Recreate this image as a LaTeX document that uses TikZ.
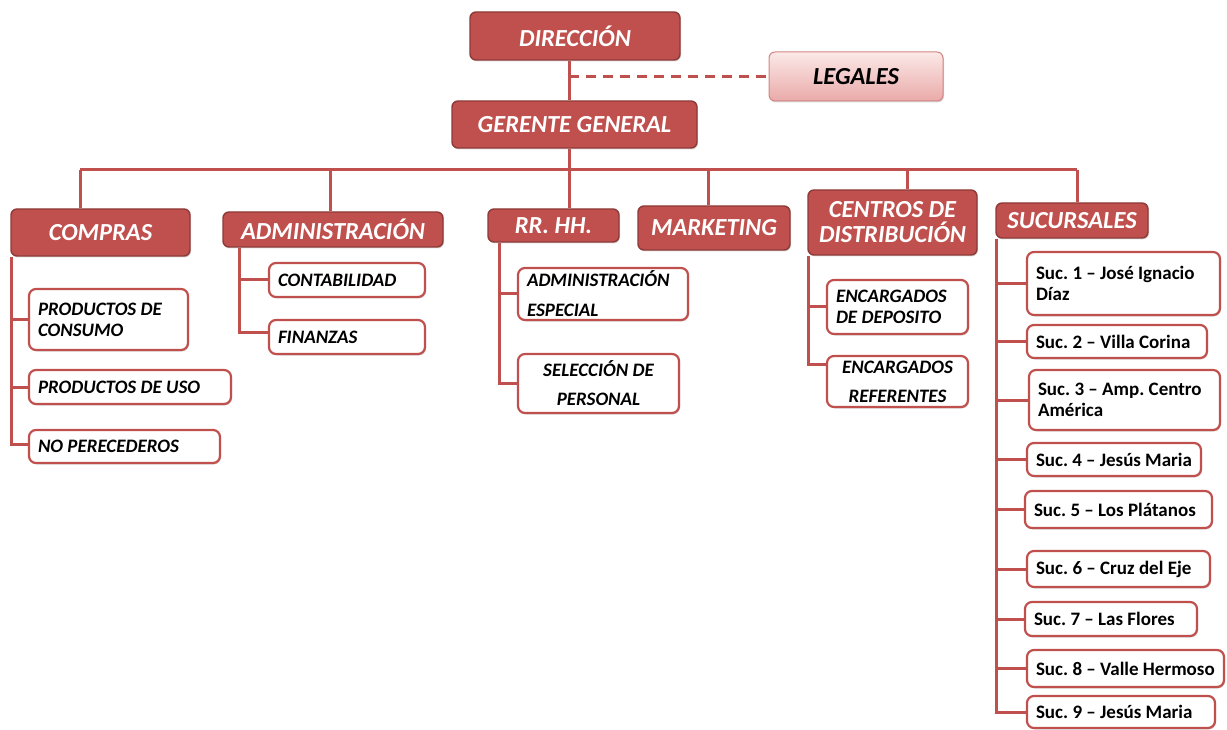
\documentclass[tikz,border=0pt]{standalone}
\usepackage{fontspec}
\setmainfont{Carlito}
\usetikzlibrary{shadows}
\definecolor{hdrred}{HTML}{C0504D}
\definecolor{hdredge}{HTML}{8E3A38}
\definecolor{pinkA}{HTML}{FBE9E8}
\definecolor{pinkB}{HTML}{E9AAA8}
\pgfdeclarelayer{bg}
\pgfsetlayers{bg,main}
\frenchspacing
\begin{document}
\begin{tikzpicture}[x=1pt,y=-1pt,
  shade/.style={drop shadow={opacity=0.3,shadow xshift=1pt,shadow yshift=-1.5pt}},
  hdr/.style={shade, draw=hdredge, line width=1.4pt, fill=hdrred, rounded corners=6pt,
    text=white, font=\fontsize{24.5}{25}\selectfont\bfseries\itshape, inner sep=0pt, align=flush center},
  legal/.style={shade, draw=hdrred!70, line width=1pt, top color=pinkA, bottom color=pinkB,
    rounded corners=6pt, font=\fontsize{24.5}{25}\selectfont\bfseries\itshape, inner sep=0pt},
  sub/.style={shade, draw=hdrred, line width=2.2pt, fill=white, rounded corners=7pt,
    font=\fontsize{19}{21}\selectfont\bfseries\itshape, inner xsep=9pt, inner ysep=0pt, align=flush left},
  suc/.style={sub, font=\fontsize{19}{21}\selectfont\bfseries},
  link/.style={draw=hdrred, line width=3pt},
]
\useasboundingbox (0,0) rectangle (1227,730);

% top of the chart
\node[hdr, minimum width=210pt, minimum height=48pt] (dir) at (575,36) {DIRECCIÓN};
\node[legal, minimum width=174pt, minimum height=49pt] (leg) at (856,76.5) {LEGALES};
\node[hdr, minimum width=245pt, minimum height=47pt] (ger) at (574.5,124.5) {GERENTE GENERAL};

% departments
\node[hdr, minimum width=179pt, minimum height=47pt] (comp) at (100.5,232.5) {COMPRAS};
\node[hdr, minimum width=220pt, minimum height=35pt] (adm) at (333,229.5) {ADMINISTRACIÓN};
\node[hdr, minimum width=131pt, minimum height=33pt] (rrhh) at (553.5,225.5) {RR. HH.};
\node[hdr, minimum width=152pt, minimum height=44pt] (mkt) at (714,228) {MARKETING};
\node[hdr, minimum width=169pt, minimum height=65pt] (cd) at (892.5,222.5) {CENTROS DE\\DISTRIBUCIÓN};
\node[hdr, minimum width=152pt, minimum height=35pt] (suc) at (1072,220.5) {SUCURSALES};

% compras
\node[sub, text width=141pt, minimum height=61pt] (pc) at (108.5,319.5) {PRODUCTOS DE\\CONSUMO};
\node[sub, text width=184pt, minimum height=34pt] (pu) at (130,387) {PRODUCTOS DE USO};
\node[sub, text width=173pt, minimum height=33pt] (np) at (124.5,446.5) {NO PERECEDEROS};

% administracion
\node[sub, text width=138pt, minimum height=34pt] (cont) at (347,280) {CONTABILIDAD};
\node[sub, text width=138pt, minimum height=34pt] (fin) at (347,337) {FINANZAS};

% recursos humanos
\node[sub, text width=152pt, minimum height=52pt] (ae) at (603,294) {ADMINISTRACIÓN\\[9pt]ESPECIAL};
\node[sub, text width=143pt, minimum height=59pt, align=flush center] (sp) at (598.5,383.5) {SELECCIÓN DE\\[8pt]PERSONAL};

% centros de distribucion
\node[sub, text width=123pt, minimum height=54pt] (ed) at (897.5,307) {ENCARGADOS\\DE DEPOSITO};
\node[sub, text width=123pt, minimum height=51pt, align=flush center] (er) at (897.5,381.5) {ENCARGADOS\\[8pt]REFERENTES};

% sucursales
\node[suc, text width=175pt, minimum height=63pt] (s1) at (1123.5,283.5) {Suc. 1 – José Ignacio\\Díaz};
\node[suc, text width=162pt, minimum height=33pt] (s2) at (1117,341.5) {Suc. 2 – Villa Corina};
\node[suc, text width=173pt, minimum height=60pt] (s3) at (1124.5,400) {Suc. 3 – Amp. Centro\\América};
\node[suc, text width=156pt, minimum height=33pt] (s4) at (1114,459.5) {Suc. 4 – Jesús Maria};
\node[suc, text width=169pt, minimum height=37pt] (s5) at (1118.5,509.5) {Suc. 5 – Los Plátanos};
\node[suc, text width=165pt, minimum height=36pt] (s6) at (1118.5,569) {Suc. 6 – Cruz del Eje};
\node[suc, text width=154pt, minimum height=34pt] (s7) at (1111,619) {Suc. 7 – Las Flores};
\node[suc, text width=179pt, minimum height=37pt] (s8) at (1125.5,668.5) {Suc. 8 – Valle Hermoso};
\node[suc, text width=170pt, minimum height=32pt] (s9) at (1121,712) {Suc. 9 – Jesús Maria};

% connectors
\coordinate (sp0) at (569,0);
\coordinate (dComp) at (80,170);
\coordinate (dAdm) at (330,170);
\coordinate (dRh) at (569,170);
\coordinate (dMkt) at (708,170);
\coordinate (dCd) at (907,170);
\coordinate (dSuc) at (1077,170);
\coordinate (tComp) at ([xshift=1.5pt]comp.south west);
\coordinate (tAdm) at ([xshift=17pt]adm.south west);
\coordinate (tRh) at ([xshift=12pt]rrhh.south west);
\coordinate (tCd) at ([xshift=1.5pt]cd.south west);
\coordinate (tSuc) at ([xshift=1.5pt]suc.south west);
\begin{pgfonlayer}{bg}
  \draw[link] (dir.south -| sp0) -- (ger.north -| sp0);
  \draw[link, dash pattern=on 10pt off 7pt] (leg.west -| sp0) -- (leg.west);
  \draw[link] (ger.south -| sp0) -- (dRh);
  \draw[link] (dComp) -- (dSuc);
  \draw[link] (dComp) -- (dComp |- comp.north);
  \draw[link] (dAdm) -- (dAdm |- adm.north);
  \draw[link] (dRh) -- (dRh |- rrhh.north);
  \draw[link] (dMkt) -- (dMkt |- mkt.north);
  \draw[link] (dCd) -- (dCd |- cd.north);
  \draw[link] (dSuc) -- (dSuc |- suc.north);
  % compras
  \draw[link] (tComp) |- ([yshift=2pt]np.west);
  \draw[link] (tComp |- pc.west) -- (pc.west);
  \draw[link] (tComp |- pu.west) -- (pu.west);
  % administracion
  \draw[link] (tAdm) |- ([yshift=5pt]fin.west);
  \draw[link] (tAdm |- cont.west) -- (cont.west);
  % rr. hh.
  \draw[link] (tRh) |- (sp.west);
  \draw[link] (tRh |- ae.west) -- (ae.west);
  % centros de distribucion
  \draw[link] (tCd) |- ([yshift=17pt]er.west);
  \draw[link] (tCd |- ed.west) -- (ed.west);
  % sucursales
  \draw[link] (tSuc) |- (s9.west);
  \foreach \s in {s1,s2,s3,s4,s5,s6,s7,s8}
    \draw[link] (tSuc |- \s.west) -- (\s.west);
\end{pgfonlayer}
\end{tikzpicture}
\end{document}
